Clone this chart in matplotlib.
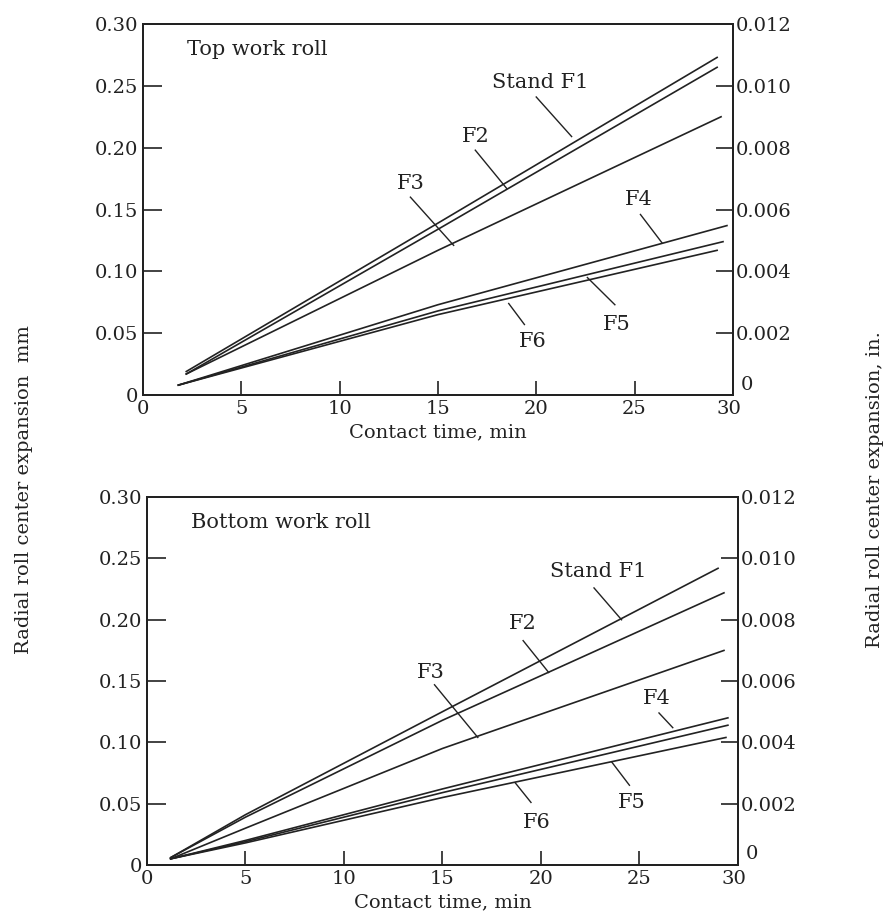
import matplotlib
matplotlib.use("Agg")
import matplotlib.pyplot as plt
import matplotlib.transforms as mtransforms

plt.rcParams['font.family'] = ['DejaVu Serif']

# ---- top work roll data (contact time in min, expansion in mm) ----
top_t = {
    'F1': [2.2, 15, 29.2],
    'F2': [2.2, 15, 29.2],
    'F3': [2.2, 15, 29.4],
    'F4': [1.8, 15, 29.7],
    'F5': [1.8, 15, 29.5],
    'F6': [1.8, 15, 29.2],
}
top_v = {
    'F1': [0.019, 0.139, 0.273],
    'F2': [0.017, 0.134, 0.265],
    'F3': [0.017, 0.117, 0.225],
    'F4': [0.008, 0.073, 0.137],
    'F5': [0.008, 0.068, 0.124],
    'F6': [0.008, 0.065, 0.117],
}

# ---- bottom work roll data ----
bot_t = {
    'F1': [1.2, 5, 15, 29.0],
    'F2': [1.2, 5, 15, 29.3],
    'F3': [1.2, 5, 15, 29.3],
    'F4': [1.2, 5, 15, 29.5],
    'F5': [1.2, 5, 15, 29.5],
    'F6': [1.2, 5, 15, 29.4],
}
bot_v = {
    'F1': [0.006, 0.041, 0.125, 0.242],
    'F2': [0.006, 0.039, 0.118, 0.222],
    'F3': [0.005, 0.030, 0.095, 0.175],
    'F4': [0.005, 0.020, 0.062, 0.120],
    'F5': [0.005, 0.019, 0.059, 0.114],
    'F6': [0.005, 0.018, 0.055, 0.104],
}

# label text, label position, leader line start/end (data coords)
top_labels = [
    ('Stand F1', (20.2, 0.253), (20.0, 0.241), (21.8, 0.209)),
    ('F2', (16.9, 0.209), (16.9, 0.198), (18.5, 0.167)),
    ('F3', (13.6, 0.171), (13.6, 0.160), (15.8, 0.121)),
    ('F4', (25.2, 0.158), (25.3, 0.146), (26.4, 0.123)),
    ('F5', (24.1, 0.057), (24.0, 0.073), (22.6, 0.095)),
    ('F6', (19.8, 0.043), (19.4, 0.057), (18.6, 0.074)),
]
bot_labels = [
    ('Stand F1', (22.9, 0.239), (22.7, 0.226), (24.1, 0.200)),
    ('F2', (19.1, 0.197), (19.1, 0.183), (20.4, 0.157)),
    ('F3', (14.4, 0.157), (14.6, 0.147), (16.8, 0.104)),
    ('F4', (25.9, 0.136), (26.0, 0.124), (26.7, 0.112)),
    ('F5', (24.6, 0.051), (24.5, 0.065), (23.6, 0.084)),
    ('F6', (19.8, 0.035), (19.5, 0.051), (18.7, 0.067)),
]

yticks_mm = [0, 0.05, 0.10, 0.15, 0.20, 0.25, 0.30]
ytick_mm_labels = ['0', '0.05', '0.10', '0.15', '0.20', '0.25', '0.30']
yticks_in = [0, 0.002, 0.004, 0.006, 0.008, 0.010, 0.012]
ytick_in_labels = ['0', '0.002', '0.004', '0.006', '0.008', '0.010', '0.012']
xticks = [0, 5, 10, 15, 20, 25, 30]

ink = '#222222'

fig = plt.figure(figsize=(8.91, 9.24), dpi=100)
ax_top = fig.add_axes([0.1605, 0.5725, 0.662, 0.4015])
ax_bot = fig.add_axes([0.165, 0.0639, 0.663, 0.398])


def draw_panel(ax, ts, vs, labels, title):
    for k in ts:
        ax.plot(ts[k], vs[k], color=ink, lw=1.2)
    for txt, pos, p0, p1 in labels:
        ax.text(pos[0], pos[1], txt, ha='center', va='center', fontsize=15, color=ink)
        ax.plot([p0[0], p1[0]], [p0[1], p1[1]], color=ink, lw=1.0)
    ax.text(0.075, 0.93, title, transform=ax.transAxes, fontsize=15, color=ink,
            ha='left', va='center')
    ax.set_xlim(0, 30)
    ax.set_ylim(0, 0.30)
    ax.set_xticks(xticks)
    ax.set_xticklabels([str(x) for x in xticks])
    ax.set_yticks(yticks_mm)
    ax.set_yticklabels(ytick_mm_labels)
    ax.tick_params(axis='y', direction='in', length=14, width=1.2, labelsize=14,
                   colors=ink)
    ax.tick_params(axis='x', direction='in', length=10, width=1.2, labelsize=14,
                   colors=ink)
    ax.set_xlabel('Contact time, min', fontsize=14, color=ink, labelpad=4)
    for s in ax.spines.values():
        s.set_linewidth(1.4)
        s.set_color(ink)
    ax2 = ax.twinx()
    ax2.set_ylim(0, 0.012)
    ax2.set_yticks(yticks_in)
    ax2.set_yticklabels(ytick_in_labels)
    ax2.tick_params(axis='y', direction='in', length=12, width=1.2, labelsize=14,
                    colors=ink, pad=2)
    for s in ax2.spines.values():
        s.set_linewidth(1.4)
        s.set_color(ink)

    # the right-hand "0" sits raised next to the "30", as in the original
    fig.canvas.draw()
    lab0 = ax2.get_yticklabels()[0]
    lab0.set_transform(lab0.get_transform() +
                       mtransforms.ScaledTranslation(4 / 72, 9 / 72, fig.dpi_scale_trans))
    lab30 = ax.get_xticklabels()[-1]
    lab30.set_transform(lab30.get_transform() +
                        mtransforms.ScaledTranslation(-3 / 72, 0, fig.dpi_scale_trans))


draw_panel(ax_top, top_t, top_v, top_labels, 'Top work roll')
draw_panel(ax_bot, bot_t, bot_v, bot_labels, 'Bottom work roll')

fig.text(0.027, 0.47, 'Radial roll center expansion  mm', rotation=90,
         ha='center', va='center', fontsize=14, color=ink)
fig.text(0.982, 0.47, 'Radial roll center expansion, in.', rotation=90,
         ha='center', va='center', fontsize=14, color=ink)

fig.savefig('out.png', dpi=100, facecolor='white')
